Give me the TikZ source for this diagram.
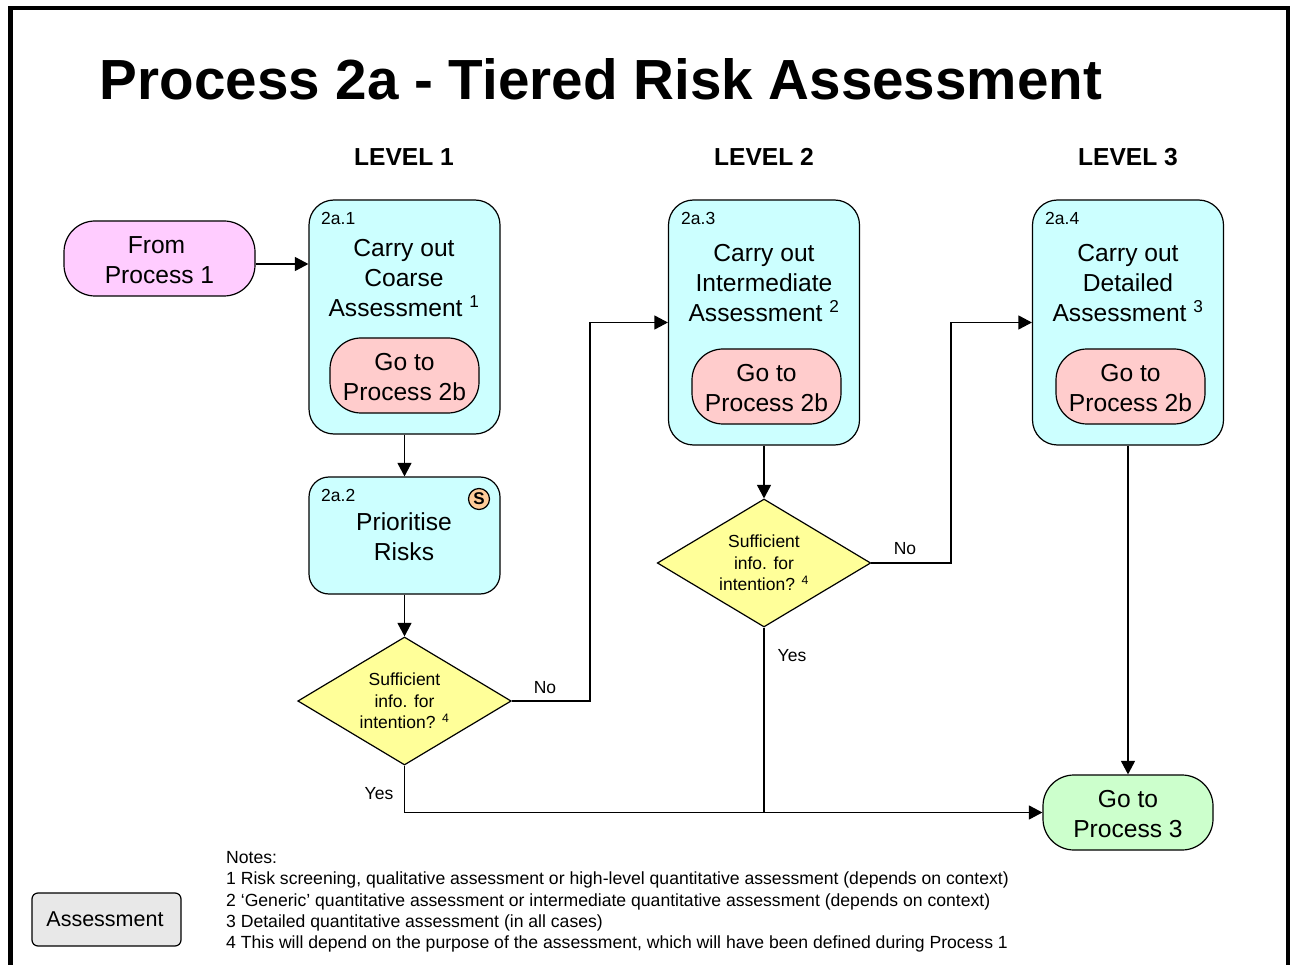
\documentclass[tikz,border=0pt]{standalone}
\usepackage{fontspec}
\setmainfont{Liberation Sans}
\usetikzlibrary{arrows.meta,shapes.geometric}
\definecolor{boxblue}{HTML}{CCFFFF}
\definecolor{frompink}{HTML}{FFCCFF}
\definecolor{gored}{HTML}{FFCCCC}
\definecolor{gogreen}{HTML}{CCFFCC}
\definecolor{askyellow}{HTML}{FFFF99}
\definecolor{sorange}{HTML}{FFCC99}
\definecolor{keygrey}{HTML}{E8E8E8}
\newcommand{\pushdown}{\rule{0pt}{19.5pt}}

\begin{document}
\begin{tikzpicture}[x=1pt, y=-1pt, every node/.style={inner sep=0pt, align=center}]
	\tikzset{big/.style={font=\fontsize{24.6}{30}\selectfont}}
	\tikzset{small/.style={font=\fontsize{17.5}{21.5}\selectfont}}
	\tikzset{tag/.style={font=\fontsize{17.5}{20}\selectfont}}
	\tikzset{head/.style={font=\fontsize{24.6}{30}\selectfont\bfseries}}
	\tikzset{box/.style={draw, line width=1.2pt, fill=boxblue, rounded corners=25pt, minimum width=191pt}}
	\tikzset{pill/.style={draw, line width=1.2pt, rounded corners=31pt, big}}
	\tikzset{ask/.style={draw, line width=1.2pt, diamond, aspect=1.66, fill=askyellow, minimum width=213.5pt, minimum height=128pt, small}}
	\tikzset{arrow/.style={line width=1.2pt, -{Triangle[length=13.5pt, width=14pt]}}}
	\useasboundingbox (0,0) rectangle (1293,965);
	\draw[line width=4.5pt] (10.5,965) -- (10.5,8) -- (1288,8) -- (1288,965);
	\node[font=\fontsize{56.6}{70}\selectfont\bfseries] (title) at (601,79) {Process 2a - Tiered Risk Assessment};
	\node[head] (level1) at (404,157) {LEVEL 1};
	\node[head] (level2) at (764,157) {LEVEL 2};
	\node[head] (level3) at (1128,157) {LEVEL 3};

	\node[pill, fill=frompink, minimum width=191pt, minimum height=75pt] (from) at (159.5,258.5) {\pushdown From\hspace*{6pt}\\Process 1};

	\node[box, minimum height=234pt] (n1) at (404.5,317) {};
	\node[box, minimum height=117pt, rounded corners=20pt] (n2) at (404.5,535.5) {};
	\node[box, minimum height=245pt] (n3) at (764,322.5) {};
	\node[box, minimum height=245pt] (n4) at (1128,322.5) {};

	\node[tag, anchor=west] (tag1) at (321,218) {2a.1};
	\node[tag, anchor=west] (tag2) at (321,495) {2a.2};
	\node[tag, anchor=west] (tag3) at (681,218) {2a.3};
	\node[tag, anchor=west] (tag4) at (1045,218) {2a.4};

	\node[big] (text1) at (404,278) {Carry out\\Coarse\\Assessment \textsuperscript{1}};
	\node[big] (text2) at (404,537) {Prioritise\\Risks};
	\node[big] (text3) at (764,283.5) {Carry out\\Intermediate\\Assessment \textsuperscript{2}};
	\node[big] (text4) at (1128,283.5) {Carry out\\Detailed\\Assessment \textsuperscript{3}};

	\node[pill, fill=gored, minimum width=149pt, minimum height=75pt] (go1) at (404.5,375.5) {\pushdown Go to\\Process 2b};
	\node[pill, fill=gored, minimum width=149pt, minimum height=75pt] (go3) at (766.5,386.5) {\pushdown Go to\\Process 2b};
	\node[pill, fill=gored, minimum width=149pt, minimum height=75pt] (go4) at (1130.5,386.5) {\pushdown Go to\\Process 2b};

	\node[draw, circle, line width=1.2pt, fill=sorange, minimum size=21pt, font=\fontsize{17}{17}\selectfont\bfseries] (s) at (479,499) {S};

	\node[ask] (d1) at (404.5,701) {Sufficient\\info. for\\intention? \textsuperscript{4}};
	\node[ask] (d2) at (764,563) {Sufficient\\info. for\hspace*{6pt}\\intention? \textsuperscript{4}};

	\node[pill, fill=gogreen, minimum width=170pt, minimum height=75pt] (p3) at (1128,812.5) {\pushdown Go to\\Process 3};

	\node[draw, line width=1.2pt, rounded corners=6pt, fill=keygrey, minimum width=149pt, minimum height=53pt, font=\fontsize{21.5}{25}\selectfont] (legend) at (106.5,919.5) {Assessment\hspace*{3pt}};

	\node[font=\fontsize{17.6}{21.4}\selectfont, anchor=north west, align=left] (notes) at (226,851) {Notes:\\1 Risk screening, qualitative assessment or high-level quantitative assessment (depends on context)\\2 ‘Generic’ quantitative assessment or intermediate quantitative assessment (depends on context)\\3 Detailed quantitative assessment (in all cases)\\4 This will depend on the purpose of the assessment, which will have been defined during Process 1};

	\coordinate (c1) at (590,322.5);
	\coordinate (c2) at (951,322.5);
	\coordinate (c3) at (404.5,812.5);
	\coordinate (c4) at (764,812.5);

	\draw[arrow] ([yshift=-5.5pt]from.east) -- ([yshift=-5.5pt]from.east -| n1.west);
	\draw[arrow] (n1) -- (n2);
	\draw[arrow] (n2) -- (d1);
	\draw[arrow] (n3) -- (d2);
	\draw[arrow] (n4) -- (p3);
	\draw[arrow] (d1.east) -| (c1) -- (n3.west);
	\draw[arrow] (d2.east) -| (c2) -- (n4.west);
	\draw[arrow] (d1.south) -- (c3) -- (p3.west);
	\draw[line width=1.2pt] (d2.south) -- (c4);

	\node[small] (no1) at (545,687.5) {No};
	\node[small] (yes1) at (379,793.5) {Yes};
	\node[small] (no2) at (905,548.5) {No};
	\node[small] (yes2) at (792,655.5) {Yes};
\end{tikzpicture}
\end{document}
